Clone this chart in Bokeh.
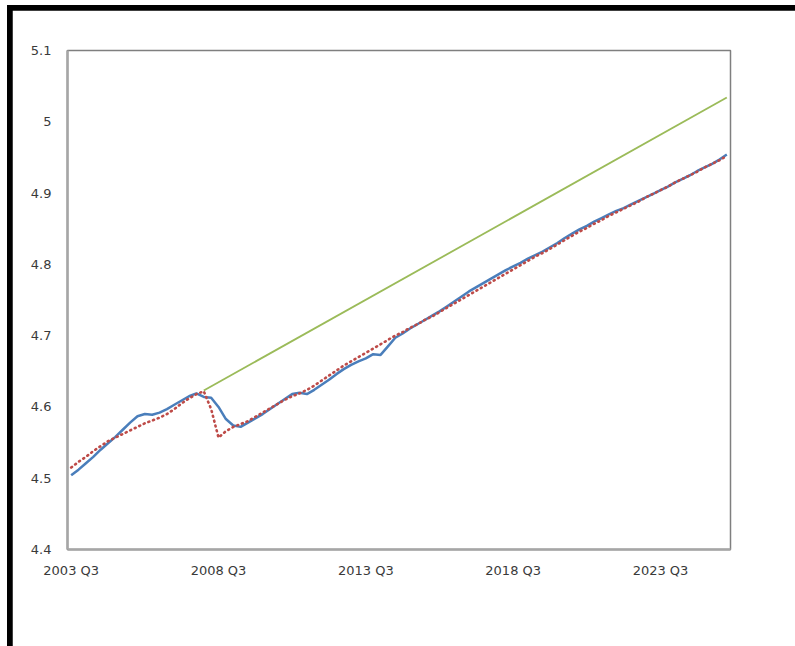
from bokeh.plotting import figure
from bokeh.layouts import column
from bokeh.models import (Range1d, FixedTicker, CustomJSTickFormatter,
                          Legend, LegendItem)
from bokeh.embed import file_html
from bokeh.resources import INLINE

# ---------------- data ----------------
quarters = []
for yr in range(2003, 2026):
    for q in range(1, 5):
        if yr == 2003 and q < 3:
            continue
        quarters.append(f"{yr} Q{q}")

tick_labels = ["2003 Q3", "2008 Q3", "2013 Q3", "2018 Q3", "2023 Q3"]
y_ticks = [4.4, 4.5, 4.6, 4.7, 4.8, 4.9, 5.0, 5.1]

log_gdp = [4.504, 4.512, 4.521, 4.530, 4.540, 4.549, 4.558, 4.568, 4.578, 4.587,
           4.590, 4.589, 4.592, 4.597, 4.603, 4.609, 4.615, 4.619, 4.614, 4.613,
           4.600, 4.583, 4.574, 4.572, 4.578, 4.584, 4.590, 4.597, 4.604, 4.611,
           4.618, 4.620, 4.618, 4.624, 4.631, 4.638, 4.646, 4.653, 4.659, 4.664,
           4.668, 4.674, 4.673, 4.685, 4.697, 4.703, 4.710, 4.716, 4.722, 4.728,
           4.734, 4.741, 4.748, 4.755, 4.762, 4.768, 4.774, 4.780, 4.786, 4.792,
           4.797, 4.802, 4.808, 4.813, 4.818, 4.824, 4.830, 4.837, 4.843, 4.849,
           4.854, 4.860, 4.865, 4.870, 4.875, 4.879, 4.884, 4.889, 4.894, 4.899,
           4.904, 4.909, 4.915, 4.920, 4.925, 4.931, 4.936, 4.941, 4.947, 4.954]

restricted = [4.515, 4.523, 4.530, 4.538, 4.545, 4.552, 4.557, 4.562, 4.567, 4.572,
              4.577, 4.581, 4.585, 4.590, 4.597, 4.605, 4.612, 4.618, 4.622, 4.597,
              4.557, 4.566, 4.572, 4.576, 4.580, 4.586, 4.592, 4.598, 4.604, 4.610,
              4.615, 4.619, 4.624, 4.630, 4.637, 4.644, 4.651, 4.658, 4.664, 4.670,
              4.676, 4.682, 4.688, 4.694, 4.700, 4.705, 4.711, 4.716, 4.722, 4.727,
              4.733, 4.739, 4.745, 4.751, 4.757, 4.763, 4.769, 4.775, 4.781, 4.787,
              4.793, 4.799, 4.805, 4.811, 4.816, 4.822, 4.828, 4.834, 4.840, 4.846,
              4.851, 4.857, 4.862, 4.868, 4.873, 4.878, 4.883, 4.888, 4.894, 4.899,
              4.904, 4.909, 4.915, 4.920, 4.925, 4.930, 4.936, 4.941, 4.946, 4.952]

trend_quarters = ["2008 Q1", "2025 Q4"]
trend_values = [4.623, 5.034]

series_names = ["Log Real GDP (Index, 2010=100, source: IMF)",
                "Restricted model", "Projected trend"]

# positions of the quarterly categories on the axis
x_pos = list(range(len(quarters)))
trend_pos = [quarters.index(q) for q in trend_quarters]
tick_pos = [quarters.index(q) for q in tick_labels]

FONT = "DejaVu Sans"
TXT = "#3A3A3A"

# ---------------- main chart ----------------
p = figure(frame_width=663, frame_height=499, output_backend="svg", toolbar_location=None,
           x_range=Range1d(-0.5, len(quarters) - 0.5),
           y_range=Range1d(4.4, 5.1),
           min_border_left=55, min_border_right=65, min_border_top=40, min_border_bottom=0,
           background_fill_color="white", border_fill_color="white")
p.margin = (5, 0, 0, 5)

p.xgrid.visible = False
p.ygrid.visible = False
p.outline_line_color = "#7F7F7F"
p.outline_line_width = 1.5

r_gdp = p.line(x_pos, log_gdp, line_color="#4A7EBB", line_width=2.5)
r_res = p.line(x_pos, restricted, line_color="#BE4B48", line_width=2.6,
               line_dash="1 4", line_cap="round")
r_tr = p.line(trend_pos, trend_values, line_color="#9BBB59", line_width=1.8)

for ax in (p.xaxis[0], p.yaxis[0]):
    ax.axis_line_color = "#A6A6A6"
    ax.axis_line_width = 2.5
    ax.major_tick_line_color = None
    ax.minor_tick_line_color = None
    ax.major_tick_out = 0
    ax.major_tick_in = 0
    ax.minor_tick_out = 0
    ax.major_label_text_font = FONT
    ax.major_label_text_font_size = "13px"
    ax.major_label_text_color = TXT

p.xaxis.ticker = FixedTicker(ticks=tick_pos)
p.xaxis.major_label_overrides = {pos: lab for pos, lab in zip(tick_pos, tick_labels)}
p.xaxis.major_label_standoff = 13

p.yaxis.ticker = FixedTicker(ticks=y_ticks)
p.yaxis.formatter = CustomJSTickFormatter(code="return tick.toFixed(1).replace(/\\.0$/, '');")
p.yaxis.major_label_standoff = 16

legend = Legend(items=[
    LegendItem(label=series_names[0], renderers=[r_gdp]),
    LegendItem(label=series_names[1], renderers=[r_res]),
    LegendItem(label=series_names[2], renderers=[r_tr]),
], orientation="horizontal", location="top_center", padding=0, margin=22, spacing=22,
    glyph_width=45, glyph_height=20, label_height=20, label_standoff=7,
    label_text_font=FONT, label_text_font_size="14px", label_text_color=TXT,
    background_fill_alpha=0, border_line_color=None)
p.add_layout(legend, "below")

# black frame strips on top and left of the picture
inner = column(p, styles={"background-color": "black"}, margin=(5, 0, 0, 7))
page = column(inner, styles={"background-color": "white"})

open("out.html", "w").write(file_html(page, INLINE))
